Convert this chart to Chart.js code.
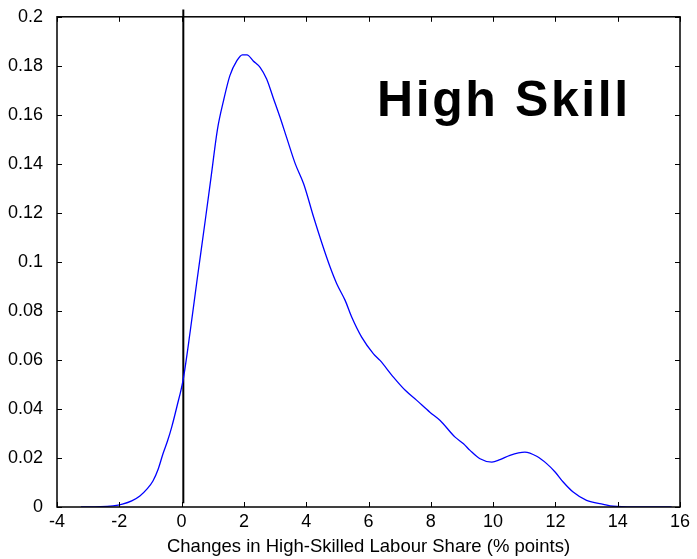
<!DOCTYPE html>
<html>
<head>
<meta charset="utf-8">
<script src="https://cdn.jsdelivr.net/npm/chart.js@4/dist/chart.umd.min.js"></script>
<style>
  html, body { margin: 0; padding: 0; background: #fff; }
  #wrap { width: 697px; height: 559px; }
</style>
</head>
<body>
<div id="wrap"><canvas id="densityChart"></canvas></div>
<script>
// density estimate
const shareChange = [-3.23, -2.6, -2.2, -1.9, -1.6, -1.34, -1.1, -0.92, -0.75, -0.6, -0.45, -0.32, -0.15,
    0.05, 0.28, 0.49, 0.76, 0.95, 1.15, 1.35, 1.55, 1.77, 1.95, 2.1, 2.3, 2.52, 2.73, 2.94, 3.16, 3.37,
    3.65, 3.92, 4.24, 4.51, 4.77, 4.98, 5.25, 5.46, 5.78, 6.16, 6.37, 6.8, 7.18, 7.55, 7.97, 8.3, 8.78,
    9.05, 9.26, 9.58, 9.96, 10.22, 10.54, 11.02, 11.4, 11.72, 11.99, 12.25, 12.57, 13.0, 13.54, 13.86,
    14.5, 15.73];
const density = [0, 0.0001, 0.0005, 0.0012, 0.0025, 0.0045, 0.0075, 0.0106, 0.0155, 0.0216, 0.027, 0.0325, 0.041,
    0.052, 0.072, 0.092, 0.117, 0.135, 0.154, 0.166, 0.176, 0.182, 0.1845, 0.1845, 0.182, 0.1794, 0.1746, 0.167, 0.159, 0.1508,
    0.140, 0.1318, 0.1182, 0.1074, 0.0978, 0.0911, 0.0843, 0.0775, 0.0693, 0.0625, 0.0598, 0.053, 0.0476, 0.0435, 0.0387, 0.0353, 0.0285,
    0.0258, 0.0231, 0.0197, 0.0183, 0.0193, 0.0211, 0.0224, 0.0207, 0.0177, 0.0143, 0.0102, 0.0061, 0.0027, 0.0011, 0.0003,
    0, 0];
const zeroLineX = [0.055, 0.055];
const zeroLineY = [0.0015, 0.203];
const panelLabel = 'High Skill';
const xTitle = 'Changes in High-Skilled Labour Share (% points)';

const FONT = '"Liberation Sans", Arial, sans-serif';

const frameAndTicks = {
    id: 'frameAndTicks',
    afterDraw(chart) {
        const { ctx, chartArea: a, scales } = chart;
        ctx.save();
        ctx.strokeStyle = '#000';
        ctx.lineWidth = 1;
        ctx.beginPath();
        scales.x.ticks.forEach(t => {
            const px = Math.round(scales.x.getPixelForValue(t.value)) + 0.5;
            ctx.moveTo(px, a.bottom); ctx.lineTo(px, a.bottom - 5);
            ctx.moveTo(px, a.top); ctx.lineTo(px, a.top + 5);
        });
        scales.y.ticks.forEach(t => {
            const py = Math.round(scales.y.getPixelForValue(t.value)) + 0.5;
            ctx.moveTo(a.left, py); ctx.lineTo(a.left + 5, py);
            ctx.moveTo(a.right, py); ctx.lineTo(a.right - 5, py);
        });
        ctx.stroke();
        ctx.lineWidth = 1.5;
        ctx.strokeRect(a.left, a.top, a.right - a.left, a.bottom - a.top);

        ctx.fillStyle = '#000';
        ctx.font = 'bold 50px ' + FONT;
        ctx.letterSpacing = '2.6px';
        ctx.textAlign = 'left';
        ctx.textBaseline = 'alphabetic';
        ctx.fillText(panelLabel, 377, 116);
        ctx.restore();
    }
};

new Chart(document.getElementById('densityChart'), {
    type: 'line',
    data: {
        datasets: [{
            data: shareChange.map((x, i) => ({ x, y: density[i] })),
            borderColor: '#0000ff',
            borderWidth: 1.3,
            pointRadius: 0,
            tension: 0,
            cubicInterpolationMode: 'monotone',
            fill: false
        }, {
            data: zeroLineX.map((x, i) => ({ x, y: zeroLineY[i] })),
            borderColor: '#000',
            borderWidth: 2,
            pointRadius: 0,
            clip: false,
            fill: false
        }]
    },
    options: {
        responsive: true,
        maintainAspectRatio: false,
        animation: false,
        layout: { padding: { top: 16, right: 17, left: 0, bottom: 0 } },
        plugins: { legend: { display: false }, tooltip: { enabled: false } },
        scales: {
            x: {
                type: 'linear',
                min: -4, max: 16,
                grid: { display: false },
                border: { display: false },
                ticks: { stepSize: 2, color: '#000', padding: -4, font: { family: FONT, size: 18 } },
                title: { display: true, text: xTitle, color: '#000', padding: { top: 0, bottom: 1 }, font: { family: FONT, size: 18.5 } },
                afterFit(scale) { scale.height = 52; }
            },
            y: {
                min: 0, max: 0.2,
                grid: { display: false },
                border: { display: false },
                ticks: {
                    stepSize: 0.02, color: '#000', padding: 6,
                    font: { family: FONT, size: 18 },
                    callback: v => String(+v.toFixed(2))
                },
                afterFit(scale) { scale.width = 57; }
            }
        }
    },
    plugins: [frameAndTicks]
});
</script>
</body>
</html>
